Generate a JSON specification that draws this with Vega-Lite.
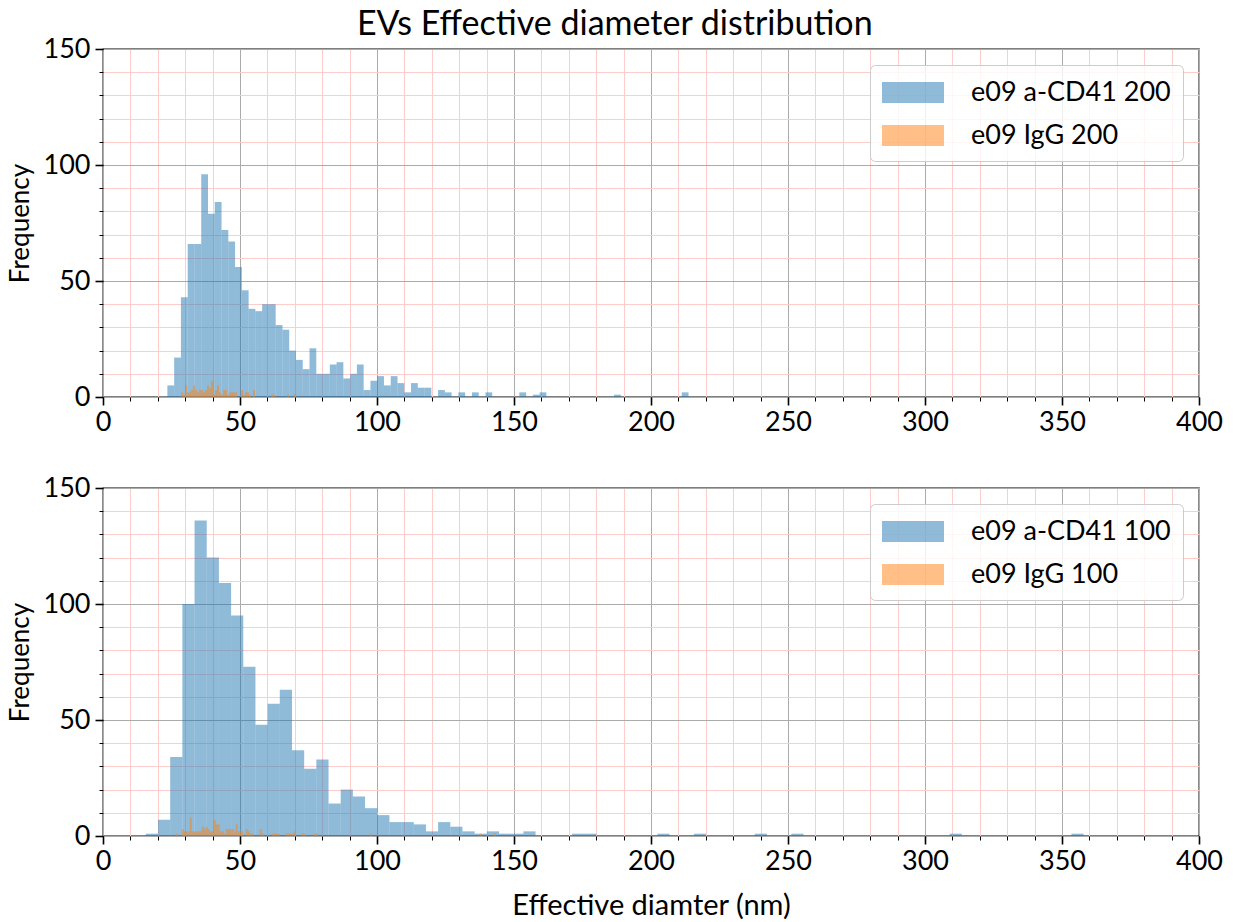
{
  "$schema": "https://vega.github.io/schema/vega-lite/v6.json",
  "padding": {"left": 6, "top": 8, "right": 20, "bottom": 2},
  "background": "white",
  "title": {"text": "EVs Effective diameter distribution", "fontSize": 34, "font": "Lato", "fontWeight": "normal", "anchor": "middle", "color": "black", "offset": -8},
  "config": {
    "font": "Lato",
    "view": {"stroke": "black", "strokeWidth": 1.3},
    "axis": {"labelFont": "Lato", "titleFont": "Lato", "labelColor": "black", "titleColor": "black", "titleFontWeight": "normal", "domain": false, "tickColor": "black", "labelFontSize": 27, "titleFontSize": 26, "labelFlush": false, "labelOverlap": false}
  },
  "datasets": {
    "top": [
      {"s": "e09 a-CD41 200", "x0": 23.5, "x1": 25.97, "n": 5},
      {"s": "e09 a-CD41 200", "x0": 25.97, "x1": 28.44, "n": 17},
      {"s": "e09 a-CD41 200", "x0": 28.44, "x1": 30.91, "n": 43},
      {"s": "e09 a-CD41 200", "x0": 30.91, "x1": 33.38, "n": 66},
      {"s": "e09 a-CD41 200", "x0": 33.38, "x1": 35.85, "n": 66},
      {"s": "e09 a-CD41 200", "x0": 35.85, "x1": 38.32, "n": 96},
      {"s": "e09 a-CD41 200", "x0": 38.32, "x1": 40.79, "n": 79},
      {"s": "e09 a-CD41 200", "x0": 40.79, "x1": 43.26, "n": 84},
      {"s": "e09 a-CD41 200", "x0": 43.26, "x1": 45.73, "n": 72},
      {"s": "e09 a-CD41 200", "x0": 45.73, "x1": 48.2, "n": 67},
      {"s": "e09 a-CD41 200", "x0": 48.2, "x1": 50.67, "n": 56},
      {"s": "e09 a-CD41 200", "x0": 50.67, "x1": 53.14, "n": 46},
      {"s": "e09 a-CD41 200", "x0": 53.14, "x1": 55.61, "n": 38},
      {"s": "e09 a-CD41 200", "x0": 55.61, "x1": 58.08, "n": 37},
      {"s": "e09 a-CD41 200", "x0": 58.08, "x1": 60.55, "n": 40},
      {"s": "e09 a-CD41 200", "x0": 60.55, "x1": 63.02, "n": 40},
      {"s": "e09 a-CD41 200", "x0": 63.02, "x1": 65.49, "n": 31},
      {"s": "e09 a-CD41 200", "x0": 65.49, "x1": 67.96, "n": 29},
      {"s": "e09 a-CD41 200", "x0": 67.96, "x1": 70.43, "n": 20},
      {"s": "e09 a-CD41 200", "x0": 70.43, "x1": 72.9, "n": 16},
      {"s": "e09 a-CD41 200", "x0": 72.9, "x1": 75.37, "n": 12},
      {"s": "e09 a-CD41 200", "x0": 75.37, "x1": 77.84, "n": 21},
      {"s": "e09 a-CD41 200", "x0": 77.84, "x1": 80.31, "n": 10},
      {"s": "e09 a-CD41 200", "x0": 80.31, "x1": 82.78, "n": 10},
      {"s": "e09 a-CD41 200", "x0": 82.78, "x1": 85.25, "n": 14},
      {"s": "e09 a-CD41 200", "x0": 85.25, "x1": 87.72, "n": 15},
      {"s": "e09 a-CD41 200", "x0": 87.72, "x1": 90.19, "n": 8},
      {"s": "e09 a-CD41 200", "x0": 90.19, "x1": 92.66, "n": 10},
      {"s": "e09 a-CD41 200", "x0": 92.66, "x1": 95.13, "n": 14},
      {"s": "e09 a-CD41 200", "x0": 95.13, "x1": 97.6, "n": 3},
      {"s": "e09 a-CD41 200", "x0": 97.6, "x1": 100.07, "n": 7},
      {"s": "e09 a-CD41 200", "x0": 100.07, "x1": 102.54, "n": 9},
      {"s": "e09 a-CD41 200", "x0": 102.54, "x1": 105.01, "n": 5},
      {"s": "e09 a-CD41 200", "x0": 105.01, "x1": 107.48, "n": 9},
      {"s": "e09 a-CD41 200", "x0": 107.48, "x1": 109.95, "n": 6},
      {"s": "e09 a-CD41 200", "x0": 109.95, "x1": 112.42, "n": 2},
      {"s": "e09 a-CD41 200", "x0": 112.42, "x1": 114.89, "n": 6},
      {"s": "e09 a-CD41 200", "x0": 114.89, "x1": 117.36, "n": 4},
      {"s": "e09 a-CD41 200", "x0": 117.36, "x1": 119.83, "n": 4},
      {"s": "e09 a-CD41 200", "x0": 122.3, "x1": 124.77, "n": 3},
      {"s": "e09 a-CD41 200", "x0": 124.77, "x1": 127.24, "n": 2},
      {"s": "e09 a-CD41 200", "x0": 129.71, "x1": 132.18, "n": 2},
      {"s": "e09 a-CD41 200", "x0": 134.65, "x1": 137.12, "n": 2},
      {"s": "e09 a-CD41 200", "x0": 139.59, "x1": 142.06, "n": 2},
      {"s": "e09 a-CD41 200", "x0": 151.94, "x1": 154.41, "n": 2},
      {"s": "e09 a-CD41 200", "x0": 156.88, "x1": 159.35, "n": 1},
      {"s": "e09 a-CD41 200", "x0": 159.35, "x1": 161.82, "n": 2},
      {"s": "e09 a-CD41 200", "x0": 186.52, "x1": 188.99, "n": 1},
      {"s": "e09 a-CD41 200", "x0": 211.22, "x1": 213.69, "n": 2},
      {"s": "e09 IgG 200", "x0": 28.47, "x1": 29.2, "n": 2},
      {"s": "e09 IgG 200", "x0": 29.2, "x1": 29.93, "n": 1},
      {"s": "e09 IgG 200", "x0": 29.93, "x1": 30.66, "n": 5},
      {"s": "e09 IgG 200", "x0": 30.66, "x1": 31.39, "n": 2},
      {"s": "e09 IgG 200", "x0": 31.39, "x1": 32.12, "n": 2},
      {"s": "e09 IgG 200", "x0": 32.12, "x1": 32.85, "n": 3},
      {"s": "e09 IgG 200", "x0": 32.85, "x1": 33.58, "n": 5},
      {"s": "e09 IgG 200", "x0": 33.58, "x1": 34.31, "n": 3},
      {"s": "e09 IgG 200", "x0": 34.31, "x1": 35.04, "n": 2},
      {"s": "e09 IgG 200", "x0": 35.04, "x1": 35.77, "n": 3},
      {"s": "e09 IgG 200", "x0": 35.77, "x1": 36.5, "n": 3},
      {"s": "e09 IgG 200", "x0": 36.5, "x1": 37.23, "n": 2},
      {"s": "e09 IgG 200", "x0": 37.23, "x1": 37.96, "n": 3},
      {"s": "e09 IgG 200", "x0": 37.96, "x1": 38.69, "n": 5},
      {"s": "e09 IgG 200", "x0": 38.69, "x1": 39.42, "n": 4},
      {"s": "e09 IgG 200", "x0": 39.42, "x1": 40.15, "n": 7},
      {"s": "e09 IgG 200", "x0": 40.15, "x1": 40.88, "n": 1},
      {"s": "e09 IgG 200", "x0": 40.88, "x1": 41.61, "n": 3},
      {"s": "e09 IgG 200", "x0": 41.61, "x1": 42.34, "n": 5},
      {"s": "e09 IgG 200", "x0": 42.34, "x1": 43.07, "n": 2},
      {"s": "e09 IgG 200", "x0": 43.07, "x1": 43.8, "n": 1},
      {"s": "e09 IgG 200", "x0": 43.8, "x1": 44.53, "n": 3},
      {"s": "e09 IgG 200", "x0": 44.53, "x1": 45.26, "n": 3},
      {"s": "e09 IgG 200", "x0": 45.26, "x1": 45.99, "n": 1},
      {"s": "e09 IgG 200", "x0": 45.99, "x1": 46.72, "n": 2},
      {"s": "e09 IgG 200", "x0": 46.72, "x1": 47.45, "n": 2},
      {"s": "e09 IgG 200", "x0": 47.45, "x1": 48.18, "n": 2},
      {"s": "e09 IgG 200", "x0": 48.18, "x1": 48.91, "n": 2},
      {"s": "e09 IgG 200", "x0": 50.37, "x1": 51.1, "n": 3},
      {"s": "e09 IgG 200", "x0": 51.1, "x1": 51.83, "n": 1},
      {"s": "e09 IgG 200", "x0": 51.83, "x1": 52.56, "n": 2},
      {"s": "e09 IgG 200", "x0": 52.56, "x1": 53.29, "n": 2},
      {"s": "e09 IgG 200", "x0": 53.29, "x1": 54.02, "n": 1},
      {"s": "e09 IgG 200", "x0": 54.75, "x1": 55.48, "n": 3},
      {"s": "e09 IgG 200", "x0": 61.32, "x1": 62.05, "n": 1},
      {"s": "e09 IgG 200", "x0": 62.05, "x1": 62.78, "n": 1},
      {"s": "e09 IgG 200", "x0": 67.16, "x1": 67.89, "n": 1},
      {"s": "e09 IgG 200", "x0": 69.35, "x1": 70.08, "n": 1}
    ],
    "bottom": [
      {"s": "e09 a-CD41 100", "x0": 15.63, "x1": 20.08, "n": 1},
      {"s": "e09 a-CD41 100", "x0": 20.08, "x1": 24.52, "n": 7},
      {"s": "e09 a-CD41 100", "x0": 24.52, "x1": 28.97, "n": 34},
      {"s": "e09 a-CD41 100", "x0": 28.97, "x1": 33.41, "n": 100},
      {"s": "e09 a-CD41 100", "x0": 33.41, "x1": 37.86, "n": 136},
      {"s": "e09 a-CD41 100", "x0": 37.86, "x1": 42.3, "n": 120},
      {"s": "e09 a-CD41 100", "x0": 42.3, "x1": 46.75, "n": 109},
      {"s": "e09 a-CD41 100", "x0": 46.75, "x1": 51.19, "n": 95},
      {"s": "e09 a-CD41 100", "x0": 51.19, "x1": 55.64, "n": 73},
      {"s": "e09 a-CD41 100", "x0": 55.64, "x1": 60.08, "n": 48},
      {"s": "e09 a-CD41 100", "x0": 60.08, "x1": 64.53, "n": 57},
      {"s": "e09 a-CD41 100", "x0": 64.53, "x1": 68.97, "n": 63},
      {"s": "e09 a-CD41 100", "x0": 68.97, "x1": 73.42, "n": 37},
      {"s": "e09 a-CD41 100", "x0": 73.42, "x1": 77.86, "n": 29},
      {"s": "e09 a-CD41 100", "x0": 77.86, "x1": 82.31, "n": 33},
      {"s": "e09 a-CD41 100", "x0": 82.31, "x1": 86.75, "n": 14},
      {"s": "e09 a-CD41 100", "x0": 86.75, "x1": 91.2, "n": 20},
      {"s": "e09 a-CD41 100", "x0": 91.2, "x1": 95.64, "n": 17},
      {"s": "e09 a-CD41 100", "x0": 95.64, "x1": 100.09, "n": 12},
      {"s": "e09 a-CD41 100", "x0": 100.09, "x1": 104.53, "n": 9},
      {"s": "e09 a-CD41 100", "x0": 104.53, "x1": 108.98, "n": 6},
      {"s": "e09 a-CD41 100", "x0": 108.98, "x1": 113.42, "n": 6},
      {"s": "e09 a-CD41 100", "x0": 113.42, "x1": 117.87, "n": 5},
      {"s": "e09 a-CD41 100", "x0": 117.87, "x1": 122.31, "n": 2},
      {"s": "e09 a-CD41 100", "x0": 122.31, "x1": 126.76, "n": 6},
      {"s": "e09 a-CD41 100", "x0": 126.76, "x1": 131.2, "n": 4},
      {"s": "e09 a-CD41 100", "x0": 131.2, "x1": 135.65, "n": 2},
      {"s": "e09 a-CD41 100", "x0": 135.65, "x1": 140.09, "n": 1},
      {"s": "e09 a-CD41 100", "x0": 140.09, "x1": 144.54, "n": 2},
      {"s": "e09 a-CD41 100", "x0": 144.54, "x1": 148.98, "n": 1},
      {"s": "e09 a-CD41 100", "x0": 148.98, "x1": 153.43, "n": 1},
      {"s": "e09 a-CD41 100", "x0": 153.43, "x1": 157.87, "n": 2},
      {"s": "e09 a-CD41 100", "x0": 171.21, "x1": 175.65, "n": 1},
      {"s": "e09 a-CD41 100", "x0": 175.65, "x1": 180.1, "n": 1},
      {"s": "e09 a-CD41 100", "x0": 202.32, "x1": 206.76, "n": 1},
      {"s": "e09 a-CD41 100", "x0": 215.65, "x1": 220.1, "n": 1},
      {"s": "e09 a-CD41 100", "x0": 237.88, "x1": 242.32, "n": 1},
      {"s": "e09 a-CD41 100", "x0": 251.21, "x1": 255.65, "n": 1},
      {"s": "e09 a-CD41 100", "x0": 308.99, "x1": 313.43, "n": 1},
      {"s": "e09 a-CD41 100", "x0": 353.44, "x1": 357.88, "n": 1},
      {"s": "e09 IgG 100", "x0": 26.52, "x1": 27.25, "n": 1},
      {"s": "e09 IgG 100", "x0": 28.71, "x1": 29.44, "n": 3},
      {"s": "e09 IgG 100", "x0": 29.44, "x1": 30.17, "n": 2},
      {"s": "e09 IgG 100", "x0": 30.17, "x1": 30.9, "n": 2},
      {"s": "e09 IgG 100", "x0": 30.9, "x1": 31.63, "n": 2},
      {"s": "e09 IgG 100", "x0": 31.63, "x1": 32.36, "n": 8},
      {"s": "e09 IgG 100", "x0": 32.36, "x1": 33.09, "n": 2},
      {"s": "e09 IgG 100", "x0": 33.09, "x1": 33.82, "n": 2},
      {"s": "e09 IgG 100", "x0": 33.82, "x1": 34.55, "n": 2},
      {"s": "e09 IgG 100", "x0": 34.55, "x1": 35.28, "n": 2},
      {"s": "e09 IgG 100", "x0": 35.28, "x1": 36.01, "n": 2},
      {"s": "e09 IgG 100", "x0": 36.01, "x1": 36.74, "n": 4},
      {"s": "e09 IgG 100", "x0": 36.74, "x1": 37.47, "n": 3},
      {"s": "e09 IgG 100", "x0": 37.47, "x1": 38.2, "n": 4},
      {"s": "e09 IgG 100", "x0": 38.2, "x1": 38.93, "n": 3},
      {"s": "e09 IgG 100", "x0": 38.93, "x1": 39.66, "n": 2},
      {"s": "e09 IgG 100", "x0": 39.66, "x1": 40.39, "n": 2},
      {"s": "e09 IgG 100", "x0": 40.39, "x1": 41.12, "n": 7},
      {"s": "e09 IgG 100", "x0": 41.12, "x1": 41.85, "n": 5},
      {"s": "e09 IgG 100", "x0": 41.85, "x1": 42.58, "n": 5},
      {"s": "e09 IgG 100", "x0": 42.58, "x1": 43.31, "n": 2},
      {"s": "e09 IgG 100", "x0": 43.31, "x1": 44.04, "n": 2},
      {"s": "e09 IgG 100", "x0": 44.04, "x1": 44.77, "n": 1},
      {"s": "e09 IgG 100", "x0": 44.77, "x1": 45.5, "n": 3},
      {"s": "e09 IgG 100", "x0": 45.5, "x1": 46.23, "n": 3},
      {"s": "e09 IgG 100", "x0": 46.23, "x1": 46.96, "n": 3},
      {"s": "e09 IgG 100", "x0": 46.96, "x1": 47.69, "n": 3},
      {"s": "e09 IgG 100", "x0": 47.69, "x1": 48.42, "n": 2},
      {"s": "e09 IgG 100", "x0": 48.42, "x1": 49.15, "n": 5},
      {"s": "e09 IgG 100", "x0": 49.15, "x1": 49.88, "n": 2},
      {"s": "e09 IgG 100", "x0": 49.88, "x1": 50.61, "n": 2},
      {"s": "e09 IgG 100", "x0": 50.61, "x1": 51.34, "n": 2},
      {"s": "e09 IgG 100", "x0": 52.07, "x1": 52.8, "n": 3},
      {"s": "e09 IgG 100", "x0": 52.8, "x1": 53.53, "n": 2},
      {"s": "e09 IgG 100", "x0": 53.53, "x1": 54.26, "n": 1},
      {"s": "e09 IgG 100", "x0": 54.26, "x1": 54.99, "n": 1},
      {"s": "e09 IgG 100", "x0": 57.18, "x1": 57.91, "n": 3},
      {"s": "e09 IgG 100", "x0": 57.91, "x1": 58.64, "n": 1},
      {"s": "e09 IgG 100", "x0": 61.56, "x1": 62.29, "n": 1},
      {"s": "e09 IgG 100", "x0": 62.29, "x1": 63.02, "n": 1},
      {"s": "e09 IgG 100", "x0": 63.02, "x1": 63.75, "n": 1},
      {"s": "e09 IgG 100", "x0": 63.75, "x1": 64.48, "n": 1},
      {"s": "e09 IgG 100", "x0": 66.67, "x1": 67.4, "n": 1},
      {"s": "e09 IgG 100", "x0": 67.4, "x1": 68.13, "n": 1},
      {"s": "e09 IgG 100", "x0": 68.13, "x1": 68.86, "n": 1},
      {"s": "e09 IgG 100", "x0": 68.86, "x1": 69.59, "n": 1},
      {"s": "e09 IgG 100", "x0": 69.59, "x1": 70.32, "n": 2},
      {"s": "e09 IgG 100", "x0": 72.51, "x1": 73.24, "n": 1},
      {"s": "e09 IgG 100", "x0": 73.24, "x1": 73.97, "n": 1},
      {"s": "e09 IgG 100", "x0": 76.89, "x1": 77.62, "n": 1},
      {"s": "e09 IgG 100", "x0": 77.62, "x1": 78.35, "n": 1},
      {"s": "e09 IgG 100", "x0": 97.33, "x1": 98.06, "n": 1},
      {"s": "e09 IgG 100", "x0": 137.48, "x1": 138.21, "n": 1},
      {"s": "e09 IgG 100", "x0": 142.59, "x1": 143.32, "n": 1}
    ]
  },
  "spacing": 37,
  "resolve": {"scale": {"color": "independent"}, "legend": {"color": "independent"}},
  "vconcat": [
    {
      "width": 1096,
      "height": 348,
      "data": {"name": "top"},
      "resolve": {"scale": {"x": "independent", "y": "independent"}, "axis": {"x": "independent", "y": "independent"}},
      "layer": [
        {
          "mark": {"type": "bar", "opacity": 0.5},
          "encoding": {
            "x": {"field": "x0", "type": "quantitative", "scale": {"domain": [0, 400], "nice": false, "zero": false},
              "axis": {"orient": "bottom", "values": [0,10,20,30,40,50,60,70,80,90,100,110,120,130,140,150,160,170,180,190,200,210,220,230,240,250,260,270,280,290,300,310,320,330,340,350,360,370,380,390,400], "grid": true, "gridColor": "#ffcccc", "gridWidth": 1, "tickSize": 4, "tickWidth": 1, "labels": false, "title": null}},
            "x2": {"field": "x1"},
            "y": {"field": "n", "type": "quantitative", "stack": null, "scale": {"domain": [0, 150], "nice": false},
              "axis": {"orient": "left", "values": [0,10,20,30,40,50,60,70,80,90,100,110,120,130,140,150], "grid": true, "gridColor": "#ffcccc", "gridWidth": 1, "tickSize": 4, "tickWidth": 1, "labels": false, "title": null}},
            "y2": {"datum": 0},
            "color": {"field": "s", "type": "nominal", "scale": {"domain": ["e09 a-CD41 200", "e09 IgG 200"], "range": ["#1f77b4", "#ff7f0e"]},
              "legend": {"orient": "top-right", "offset": 16, "title": null, "symbolType": "M-1,-0.68H3V0.68H-1Z", "symbolSize": 961, "symbolOpacity": 0.5, "symbolStrokeWidth": 0, "labelFontSize": 27, "labelFont": "Lato", "labelColor": "black", "labelOffset": 58, "labelLimit": 400, "padding": 12, "rowPadding": 14, "strokeColor": "#cccccc", "fillColor": "rgba(255,255,255,0.8)", "cornerRadius": 5}}
          }
        },
        {
          "mark": {"type": "bar", "opacity": 0},
          "encoding": {
            "x": {"field": "x0", "type": "quantitative", "scale": {"domain": [0, 400], "nice": false, "zero": false},
              "axis": {"orient": "bottom", "values": [0,50,100,150,200,250,300,350,400], "grid": true, "gridColor": "#ababab", "gridWidth": 1, "tickSize": 8, "tickWidth": 1.6, "labelPadding": 4, "title": null}},
            "x2": {"field": "x1"},
            "y": {"field": "n", "type": "quantitative", "stack": null, "scale": {"domain": [0, 150], "nice": false},
              "axis": {"orient": "left", "values": [0,50,100,150], "grid": true, "gridColor": "#ababab", "gridWidth": 1, "tickSize": 8, "tickWidth": 1.6, "labelPadding": 5, "title": "Frequency", "titlePadding": 10}},
            "y2": {"datum": 0}
          }
        }
      ]
    },
    {
      "width": 1096,
      "height": 348,
      "data": {"name": "bottom"},
      "resolve": {"scale": {"x": "independent", "y": "independent"}, "axis": {"x": "independent", "y": "independent"}},
      "layer": [
        {
          "mark": {"type": "bar", "opacity": 0.5},
          "encoding": {
            "x": {"field": "x0", "type": "quantitative", "scale": {"domain": [0, 400], "nice": false, "zero": false},
              "axis": {"orient": "bottom", "values": [0,10,20,30,40,50,60,70,80,90,100,110,120,130,140,150,160,170,180,190,200,210,220,230,240,250,260,270,280,290,300,310,320,330,340,350,360,370,380,390,400], "grid": true, "gridColor": "#ffcccc", "gridWidth": 1, "tickSize": 4, "tickWidth": 1, "labels": false, "title": null}},
            "x2": {"field": "x1"},
            "y": {"field": "n", "type": "quantitative", "stack": null, "scale": {"domain": [0, 150], "nice": false},
              "axis": {"orient": "left", "values": [0,10,20,30,40,50,60,70,80,90,100,110,120,130,140,150], "grid": true, "gridColor": "#ffcccc", "gridWidth": 1, "tickSize": 4, "tickWidth": 1, "labels": false, "title": null}},
            "y2": {"datum": 0},
            "color": {"field": "s", "type": "nominal", "scale": {"domain": ["e09 a-CD41 100", "e09 IgG 100"], "range": ["#1f77b4", "#ff7f0e"]},
              "legend": {"orient": "top-right", "offset": 16, "title": null, "symbolType": "M-1,-0.68H3V0.68H-1Z", "symbolSize": 961, "symbolOpacity": 0.5, "symbolStrokeWidth": 0, "labelFontSize": 27, "labelFont": "Lato", "labelColor": "black", "labelOffset": 58, "labelLimit": 400, "padding": 12, "rowPadding": 14, "strokeColor": "#cccccc", "fillColor": "rgba(255,255,255,0.8)", "cornerRadius": 5}}
          }
        },
        {
          "mark": {"type": "bar", "opacity": 0},
          "encoding": {
            "x": {"field": "x0", "type": "quantitative", "scale": {"domain": [0, 400], "nice": false, "zero": false},
              "axis": {"orient": "bottom", "values": [0,50,100,150,200,250,300,350,400], "grid": true, "gridColor": "#ababab", "gridWidth": 1, "tickSize": 8, "tickWidth": 1.6, "labelPadding": 4, "title": "Effective diamter (nm)", "titleFontSize": 29, "titlePadding": 17}},
            "x2": {"field": "x1"},
            "y": {"field": "n", "type": "quantitative", "stack": null, "scale": {"domain": [0, 150], "nice": false},
              "axis": {"orient": "left", "values": [0,50,100,150], "grid": true, "gridColor": "#ababab", "gridWidth": 1, "tickSize": 8, "tickWidth": 1.6, "labelPadding": 5, "title": "Frequency", "titlePadding": 10}},
            "y2": {"datum": 0}
          }
        }
      ]
    }
  ]
}
